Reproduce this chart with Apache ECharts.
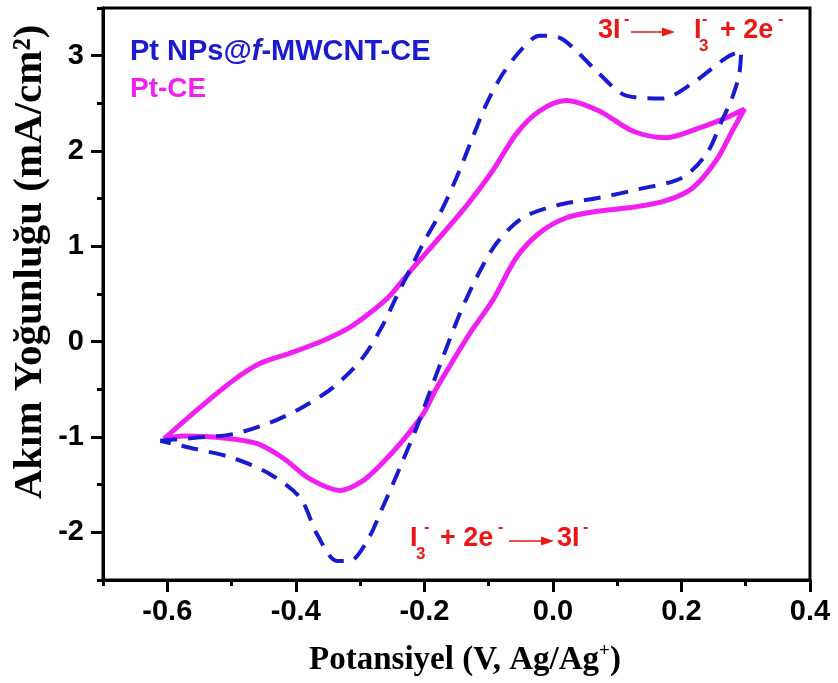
<!DOCTYPE html>
<html>
<head>
<meta charset="utf-8">
<script src="https://cdn.jsdelivr.net/npm/echarts@6/dist/echarts.min.js"></script>
<style>
html,body{margin:0;padding:0;background:#fff;}
#chart{width:838px;height:683px;}
</style>
</head>
<body>
<div id="chart"></div>
<script>
// ---- data ----
const seriesNames = ['Pt NPs@f-MWCNT-CE', 'Pt-CE'];

// Pt NPs@f-MWCNT-CE (blue dashed) : potential (V) and current density (mA/cm2), in sweep order
const mwcntV = [-0.611, -0.560, -0.498, -0.440, -0.393, -0.342, -0.296, -0.265, -0.245, -0.222, -0.198, -0.176, -0.150, -0.125, -0.103, -0.078, -0.047, -0.021, 0.010, 0.041, 0.072, 0.114, 0.170, 0.217, 0.270, 0.293,
                0.290, 0.279, 0.263, 0.239, 0.201, 0.134, 0.072, 0.006, -0.047, -0.088, -0.119, -0.145, -0.171, -0.190, -0.212, -0.238, -0.265, -0.289, -0.316, -0.336, -0.367, -0.393, -0.440, -0.498, -0.560, -0.611];
const mwcntI = [-1.04, -1.01, -0.97, -0.85, -0.70, -0.48, -0.17, 0.17, 0.45, 0.76, 1.08, 1.34, 1.72, 2.14, 2.50, 2.81, 3.08, 3.21, 3.19, 3.02, 2.81, 2.58, 2.55, 2.71, 2.98, 3.05,
                2.81, 2.56, 2.32, 1.97, 1.72, 1.60, 1.51, 1.43, 1.30, 1.03, 0.67, 0.29, -0.16, -0.50, -0.90, -1.32, -1.74, -2.09, -2.30, -2.30, -2.02, -1.64, -1.39, -1.22, -1.12, -1.04];

// Pt-CE (magenta solid)
const ptV = [-0.605, -0.549, -0.498, -0.456, -0.409, -0.358, -0.316, -0.285, -0.254, -0.223, -0.187, -0.134, -0.094, -0.057, -0.021, 0.021, 0.072, 0.124, 0.176, 0.227, 0.270, 0.298,
             0.279, 0.254, 0.217, 0.176, 0.124, 0.072, 0.021, -0.021, -0.057, -0.094, -0.130, -0.160, -0.182, -0.202, -0.234, -0.265, -0.296, -0.331, -0.378, -0.420, -0.460, -0.513, -0.575, -0.605];
const ptI = [-1.02, -0.69, -0.41, -0.23, -0.12, 0.01, 0.15, 0.30, 0.48, 0.73, 1.01, 1.43, 1.79, 2.18, 2.42, 2.53, 2.42, 2.21, 2.14, 2.24, 2.35, 2.44,
             2.21, 1.90, 1.61, 1.48, 1.41, 1.37, 1.30, 1.14, 0.88, 0.43, 0.08, -0.25, -0.50, -0.76, -1.04, -1.27, -1.46, -1.56, -1.44, -1.22, -1.07, -1.01, -0.99, -1.02];

// tick labels
const xMajorTicks = [-0.6, -0.4, -0.2, 0.0, 0.2, 0.4];
const xMinorTicks = [-0.7, -0.5, -0.3, -0.1, 0.1, 0.3];
const yMajorTicks = [-2, -1, 0, 1, 2, 3];
const yMinorTicks = [-2.5, -1.5, -0.5, 0.5, 1.5, 2.5, 3.5];

const xTitle = 'Potansiyel (V, Ag/Ag';
const yTitle = 'Akım Yoğunluğu (mA/cm²)';

// ---- styling ----
const BLUE = '#1a1ad0';
const MAGENTA = '#f020f0';
const RED = '#ee1515';
const SANS = 'Liberation Sans, Arial, sans-serif';
const SERIF = 'Liberation Serif, Times New Roman, serif';

const zip = (a, b) => a.map((v, i) => [v, b[i]]);

const chart = echarts.init(document.getElementById('chart'), null, {renderer: 'canvas'});

function txt(x, y, text, size, align) {
  return {type: 'text', x: x, y: y, style: {text: text, fill: RED, font: 'bold ' + size + 'px ' + SANS, textAlign: align || 'left', textVerticalAlign: 'middle'}};
}
function arrow(x1, x2, y) {
  return [
    {type: 'line', shape: {x1: x1, y1: y, x2: x2 - 8, y2: y}, style: {stroke: RED, lineWidth: 1.5}},
    {type: 'polygon', shape: {points: [[x2 - 13, y - 4.5], [x2, y], [x2 - 13, y + 4.5]]}, style: {fill: RED}}
  ];
}

const graphics = [
  // legend texts
  {type: 'text', x: 130, y: 52, style: {
    text: '{a|Pt NPs@}{b|f}{a|-MWCNT-CE}',
    rich: {
      a: {fill: BLUE, font: 'bold 29px ' + SANS},
      b: {fill: BLUE, font: 'italic bold 29px ' + SANS}
    },
    textVerticalAlign: 'middle'
  }},
  {type: 'text', x: 130, y: 89, style: {text: 'Pt-CE', fill: MAGENTA, font: 'bold 28px ' + SANS, textVerticalAlign: 'middle'}},

  // top annotation: 3I- -> I3- + 2e-
  txt(598, 31, '3I', 27),
  txt(624, 20, '-', 16),
  ...arrow(631, 675, 32),
  txt(694, 31, 'I', 27),
  txt(699, 46, '3', 17),
  txt(702, 20, '-', 16),
  txt(720, 31, '+ 2e', 27),
  txt(778, 20, '-', 16),

  // bottom annotation: I3- + 2e- -> 3I-
  txt(410, 539, 'I', 27),
  txt(416, 554, '3', 17),
  txt(424, 528, '-', 16),
  txt(440, 539, '+ 2e', 27),
  txt(498, 528, '-', 16),
  ...arrow(509, 554, 541),
  txt(557, 539, '3I', 27),
  txt(583, 528, '-', 16),

  // axis titles
  {type: 'text', x: 465, y: 660, style: {
    text: '{m|' + xTitle + '}{s|+}{m|)}',
    rich: {
      m: {fill: '#000', font: 'bold 33px ' + SERIF, lineHeight: 36},
      s: {fill: '#000', font: 'bold 19px ' + SERIF, verticalAlign: 'top', lineHeight: 36}
    },
    textAlign: 'center', textVerticalAlign: 'middle'
  }},
  {type: 'text', x: 30, y: 262, rotation: Math.PI / 2, style: {
    text: yTitle, fill: '#000', font: 'bold 41px ' + SERIF, textAlign: 'center', textVerticalAlign: 'middle'
  }}
];

const tickStyle = {color: '#000', width: 3};
function xAx(extra) {
  return Object.assign({
    type: 'value', gridIndex: 0, min: -0.7, max: 0.4, interval: 0.1, position: 'bottom',
    splitLine: {show: false}
  }, extra);
}
function yAx(extra) {
  return Object.assign({
    type: 'value', gridIndex: 0, min: -2.5, max: 3.5, interval: 0.5, position: 'left',
    splitLine: {show: false}
  }, extra);
}

const option = {
  backgroundColor: '#fff',
  animation: false,
  grid: {left: 103, right: 28, top: 8, bottom: 103, show: true, borderColor: '#000', borderWidth: 3, backgroundColor: 'transparent'},
  xAxis: [
    xAx({
      axisLine: {show: true, onZero: false, lineStyle: {color: '#000', width: 3}},
      axisTick: {show: false},
      axisLabel: {show: true, customValues: xMajorTicks, margin: 17, color: '#000', fontFamily: SANS, fontWeight: 'bold', fontSize: 29,
        formatter: v => Number(v).toFixed(1)}
    }),
    xAx({
      axisLine: {show: false, onZero: false},
      axisTick: {show: true, customValues: xMajorTicks, length: 12, lineStyle: tickStyle},
      axisLabel: {show: false}
    }),
    xAx({
      axisLine: {show: false, onZero: false},
      axisTick: {show: true, customValues: xMinorTicks, length: 6, lineStyle: tickStyle},
      axisLabel: {show: false}
    })
  ],
  yAxis: [
    yAx({
      axisLine: {show: true, onZero: false, lineStyle: {color: '#000', width: 3}},
      axisTick: {show: false},
      axisLabel: {show: true, customValues: yMajorTicks, margin: 19, color: '#000', fontFamily: SANS, fontWeight: 'bold', fontSize: 29,
        formatter: v => String(Math.round(v))}
    }),
    yAx({
      axisLine: {show: false, onZero: false},
      axisTick: {show: true, customValues: yMajorTicks, length: 12, lineStyle: tickStyle},
      axisLabel: {show: false}
    }),
    yAx({
      axisLine: {show: false, onZero: false},
      axisTick: {show: true, customValues: yMinorTicks, length: 6, lineStyle: tickStyle},
      axisLabel: {show: false}
    })
  ],
  series: [
    {
      name: seriesNames[1], type: 'line', xAxisIndex: 0, yAxisIndex: 0,
      data: zip(ptV, ptI), showSymbol: false, symbol: 'none', smooth: 0.3, clip: false,
      lineStyle: {color: MAGENTA, width: 5}, z: 3
    },
    {
      name: seriesNames[0], type: 'line', xAxisIndex: 0, yAxisIndex: 0,
      data: zip(mwcntV, mwcntI), showSymbol: false, symbol: 'none', smooth: 0.3, clip: false,
      lineStyle: {color: BLUE, width: 4, type: [17, 11]}, z: 4
    }
  ],
  graphic: graphics
};

chart.setOption(option);
</script>
</body>
</html>
